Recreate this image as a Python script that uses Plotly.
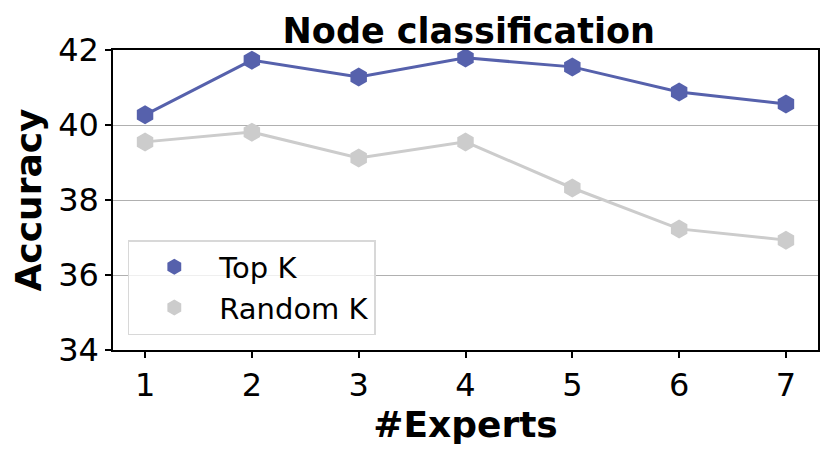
import plotly.graph_objects as go

experts = [1, 2, 3, 4, 5, 6, 7]
top_k = [40.27, 41.73, 41.28, 41.79, 41.55, 40.88, 40.56]
random_k = [39.55, 39.81, 39.12, 39.55, 38.32, 37.23, 36.93]
y_ticks = [34, 36, 38, 40, 42]

BLUE = "#5661AC"
GRAY = "#CCCCCC"
FONT = "DejaVu Sans"

fig = go.Figure()
for name, vals, col in [("Top K", top_k, BLUE), ("Random K", random_k, GRAY)]:
    fig.add_trace(go.Scatter(x=experts, y=vals, mode="lines", line=dict(color=col, width=3),
                             showlegend=False, hoverinfo="skip"))
    fig.add_trace(go.Scatter(x=experts, y=vals, mode="markers", name=name,
                             marker=dict(symbol="hexagon", size=19, color=col)))

# page body has an 8px default margin; compensate so the plot lands where the reference has it
fig.update_layout(
    width=822, height=445,
    margin=dict(l=105, r=12, t=42, b=103),
    paper_bgcolor="white", plot_bgcolor="white",
    font=dict(family=FONT, color="black"),
    title=dict(text="<b>Node classification</b>", x=0.5605, xanchor="center", y=0.95, yanchor="middle",
               font=dict(size=35, family=FONT)),
    legend=dict(x=0.021, y=0.05, xanchor="left", yanchor="bottom",
                bordercolor="#D8D8D8", borderwidth=1.5, bgcolor="rgba(255,255,255,0.8)",
                font=dict(size=29, family=FONT), itemsizing="trace", itemwidth=80),
)
fig.update_xaxes(range=[0.7, 7.3], tickvals=experts, ticks="outside", ticklen=6, tickwidth=1.5,
                 tickcolor="black", tickfont=dict(size=32), showgrid=False, zeroline=False,
                 showline=True, linecolor="black", linewidth=1.5, mirror=True, automargin=False,
                 title=dict(text="<b>#Experts</b>", font=dict(size=36), standoff=0))
fig.update_yaxes(range=[34, 42], tickvals=y_ticks, ticks="outside", ticklen=6, tickwidth=1.5,
                 tickcolor="black", tickfont=dict(size=32), showgrid=True, gridcolor="#B0B0B0",
                 gridwidth=1, zeroline=False,
                 showline=True, linecolor="black", linewidth=1.5, mirror=True, automargin=False,
                 title=dict(text="<b>Accuracy</b>", font=dict(size=36), standoff=6))

fig.write_html("out.html")
